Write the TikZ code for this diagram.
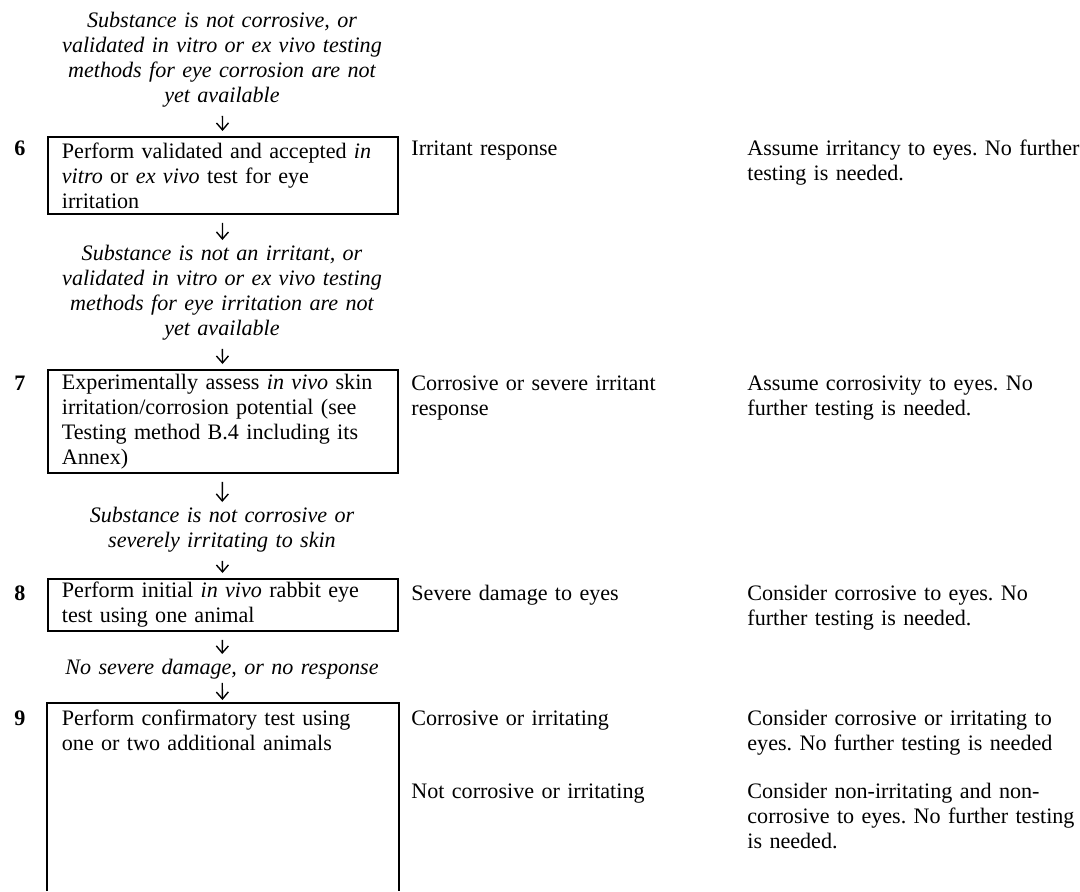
\documentclass[tikz,border=0pt]{standalone}
\usepackage{fontspec}
\setmainfont{Liberation Serif}
\usepackage{tikz}
\usetikzlibrary{arrows.meta}

\newcommand{\flowfont}{\fontsize{11.05pt}{12.5pt}\selectfont\frenchspacing\hyphenpenalty=10000 }

\begin{document}
\begin{tikzpicture}[x=0.5pt,y=-0.5pt]
	
	\tikzset{stepbox/.style = {draw,line width=0.9pt,anchor=north west,text width=161pt,inner xsep=7pt,inner ysep=0pt,align=left,font=\flowfont}}
	\tikzset{openbox/.style = {stepbox,draw=none,inner ysep=3pt}}
	\tikzset{cond/.style = {anchor=north,text width=180pt,inner sep=0pt,align=center,font=\flowfont\itshape}}
	\tikzset{num/.style = {anchor=base,inner sep=0pt,font=\flowfont\bfseries}}
	\tikzset{result/.style = {anchor=north west,text width=160pt,inner sep=0pt,align=left,font=\flowfont}}
	\tikzset{action/.style = {anchor=north west,text width=190pt,inner sep=0pt,align=left,font=\flowfont}}
	\tikzset{edge/.style = {-{Straight Barb[length=3.5pt,width=6pt]},line width=0.7pt,shorten <=4pt,shorten >=2.5pt}}
	
	\useasboundingbox (0,0) rectangle (1080,891);
	\coordinate (base) at (0,891);
	
	% step 6
	\node[cond] (c6) at (222,12) {Substance is not corrosive, or\\ validated in vitro or ex vivo testing\\ methods for eye corrosion are not\\ yet available};
	\node[stepbox,minimum height=38.5pt] (b6) at (47,136) {Perform validated and accepted \textit{in}\\ \textit{vitro} or \textit{ex vivo} test for eye\\ irritation};
	\node[num] (n6) at (20,155) {6};
	\node[result] (r6) at (411,140) {Irritant response};
	\node[action] (o6) at (747,140) {Assume irritancy to eyes. No further\\ testing is needed.};
	
	% step 7
	\node[cond] (c7) at (222,245) {Substance is not an irritant, or\\ validated in vitro or ex vivo testing\\ methods for eye irritation are not\\ yet available};
	\node[stepbox,minimum height=51.5pt] (b7) at (47,369) {Experimentally assess \textit{in vivo} skin\\ irritation/corrosion potential (see\\ Testing method B.4 including its\\ Annex)};
	\node[num] (n7) at (20,390) {7};
	\node[result] (r7) at (411,375) {Corrosive or severe irritant\\ response};
	\node[action] (o7) at (747,375) {Assume corrosivity to eyes. No\\ further testing is needed.};
	
	% step 8
	\node[cond] (c8) at (222,507) {Substance is not corrosive or\\ severely irritating to skin};
	\node[stepbox,minimum height=26pt] (b8) at (47,578) {Perform initial \textit{in vivo} rabbit eye\\ test using one animal};
	\node[num] (n8) at (20,600) {8};
	\node[result] (r8) at (411,585) {Severe damage to eyes};
	\node[action] (o8) at (747,585) {Consider corrosive to eyes. No\\ further testing is needed.};
	
	% step 9
	\node[cond] (c9) at (222,659) {No severe damage, or no response};
	\node[openbox] (b9) at (47,703) {Perform confirmatory test using\\ one or two additional animals};
	\node[num] (n9) at (20,725) {9};
	\node[result] (r9) at (411,710) {Corrosive or irritating};
	\node[action] (o9) at (747,710) {Consider corrosive or irritating to\\ eyes. No further testing is needed};
	\node[result] (r10) at (411,783) {Not corrosive or irritating};
	\node[action] (o10) at (747,783) {Consider non-irritating and non-\\ corrosive to eyes. No further testing\\ is needed.};
	
	\draw[line width=0.9pt] (b9.north west |- base) -- (b9.north west) -- (b9.north east) -- (b9.north east |- base);
	
	\draw[edge] (c6) to (b6);
	\draw[edge] (b6) to (c7);
	\draw[edge] (c7) to (b7);
	\draw[edge] (b7) to (c8);
	\draw[edge] (c8) to (b8);
	\draw[edge] (b8) to (c9);
	\draw[edge,shorten <=1.5pt,shorten >=1.5pt] (c9) to (b9);
\end{tikzpicture}
\end{document}
